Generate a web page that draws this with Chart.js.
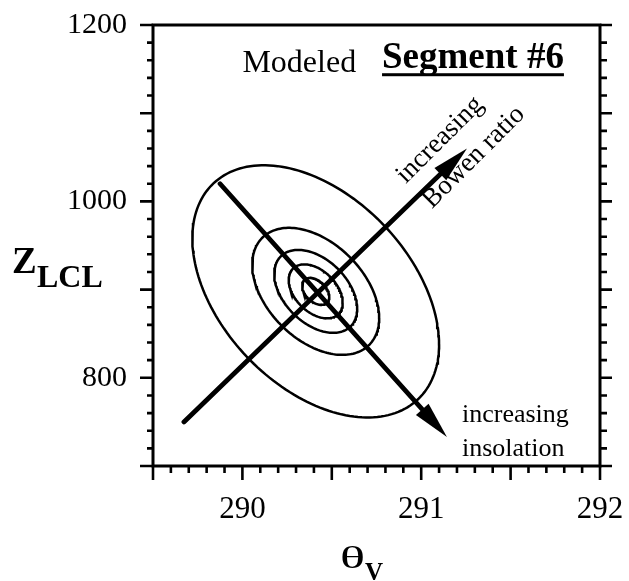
<!DOCTYPE html>
<html>
<head>
<meta charset="utf-8">
<script src="https://cdn.jsdelivr.net/npm/chart.js@4/dist/chart.umd.min.js"></script>
<style>
  html, body { margin: 0; padding: 0; background: #fff; }
  canvas { display: block; }
</style>
</head>
<body>
<canvas id="chart" width="629" height="581"></canvas>
<script>
// Axis ranges and labelled ticks
const thetaRange = [289.5, 292];
const zRange = [700, 1200];
const thetaTickLabels = [290, 291, 292];
const zTickLabels = [800, 1000, 1200];
const thetaMinorStep = 0.1, thetaMajorStep = 0.5;
const zMinorStep = 20, zMajorStep = 100;

// Modeled distribution: common centre, and the half-extent of each contour
// in θv (K) and zLCL (m), outermost first
const contourCenter = [290.41, 898];
const contourHalfWidthK = [0.69, 0.355, 0.232, 0.151, 0.076];
const contourHalfHeightM = [143, 72, 47, 30.6, 15.3];
const contourCorrelation = -0.42;

// Arrows, [start, tip] as [θv, zLCL]
const insolationArrow = [[289.875, 1020], [291.144, 733]];
const bowenArrow = [[289.673, 750], [291.256, 1060]];

const SERIF = '"Liberation Serif", "Times New Roman", serif';

function contourPoints(hx, hy) {
  const pts = [];
  const n = 180;
  const s = Math.sqrt(1 - contourCorrelation * contourCorrelation);
  for (let i = 0; i <= n; i++) {
    const t = (i / n) * Math.PI * 2;
    pts.push({
      x: contourCenter[0] + hx * Math.cos(t),
      y: contourCenter[1] + hy * (contourCorrelation * Math.cos(t) + s * Math.sin(t))
    });
  }
  return pts;
}

const datasets = contourHalfWidthK.map((hx, i) => ({
  data: contourPoints(hx, contourHalfHeightM[i]),
  borderColor: '#000',
  borderWidth: 2.5,
  pointRadius: 0,
  fill: false,
  tension: 0
}));

[insolationArrow, bowenArrow].forEach(a => {
  datasets.push({
    data: a.map(p => ({ x: p[0], y: p[1] })),
    borderColor: '#000',
    borderWidth: 4.8,
    borderCapStyle: 'round',
    pointRadius: 0,
    fill: false,
    arrow: true
  });
});

const HEAD_LEN = 37, HEAD_HALF = 8.5;

function arrowGeometry(chart, ds) {
  const xs = chart.scales.x, ys = chart.scales.y;
  const s = { x: xs.getPixelForValue(ds.data[0].x), y: ys.getPixelForValue(ds.data[0].y) };
  const t = { x: xs.getPixelForValue(ds.data[1].x), y: ys.getPixelForValue(ds.data[1].y) };
  const len = Math.hypot(t.x - s.x, t.y - s.y);
  const u = { x: (t.x - s.x) / len, y: (t.y - s.y) / len };
  const n = { x: -u.y, y: u.x };
  return { s, t, u, n };
}

// Arrow shafts stop at the head; heads are filled triangles
const arrowPlugin = {
  id: 'arrowHeads',
  beforeDatasetDraw(chart, args) {
    const ds = chart.data.datasets[args.index];
    if (!ds.arrow) return;
    const { s, t, u, n } = arrowGeometry(chart, ds);
    const ctx = chart.ctx;
    const back = { x: s.x - u.x * 12, y: s.y - u.y * 12 };
    const base = { x: t.x - u.x * (HEAD_LEN - 6), y: t.y - u.y * (HEAD_LEN - 6) };
    ctx.save();
    ctx.beginPath();
    ctx.moveTo(back.x + n.x * 12, back.y + n.y * 12);
    ctx.lineTo(base.x + n.x * 12, base.y + n.y * 12);
    ctx.lineTo(base.x - n.x * 12, base.y - n.y * 12);
    ctx.lineTo(back.x - n.x * 12, back.y - n.y * 12);
    ctx.closePath();
    ctx.clip();
  },
  afterDatasetDraw(chart, args) {
    const ds = chart.data.datasets[args.index];
    if (!ds.arrow) return;
    const ctx = chart.ctx;
    ctx.restore();
    const { t, u, n } = arrowGeometry(chart, ds);
    const b = { x: t.x - u.x * HEAD_LEN, y: t.y - u.y * HEAD_LEN };
    ctx.save();
    ctx.fillStyle = '#000';
    ctx.beginPath();
    ctx.moveTo(t.x, t.y);
    ctx.lineTo(b.x + n.x * HEAD_HALF, b.y + n.y * HEAD_HALF);
    ctx.lineTo(b.x - n.x * HEAD_HALF, b.y - n.y * HEAD_HALF);
    ctx.closePath();
    ctx.fill();
    ctx.restore();
  }
};

function isMultiple(v, step) {
  const r = v / step;
  return Math.abs(r - Math.round(r)) < 1e-6;
}

// Frame with outward tick marks on left, right and bottom
const framePlugin = {
  id: 'frameTicks',
  afterDraw(chart) {
    const { ctx, chartArea: a } = chart;
    const xs = chart.scales.x, ys = chart.scales.y;
    ctx.save();
    ctx.strokeStyle = '#000';
    ctx.lineCap = 'butt';
    ctx.lineWidth = 2.6;
    for (let k = 0; ; k++) {
      const v = zRange[0] + k * zMinorStep;
      if (v > zRange[1] + 1e-6) break;
      const y = ys.getPixelForValue(v);
      const major = isMultiple(v, zMajorStep);
      ctx.beginPath();
      ctx.moveTo(a.left, y); ctx.lineTo(a.left - (major ? 13 : 6), y);
      ctx.moveTo(a.right, y); ctx.lineTo(a.right + (major ? 12 : 7), y);
      ctx.stroke();
    }
    for (let k = 0; ; k++) {
      const v = thetaRange[0] + k * thetaMinorStep;
      if (v > thetaRange[1] + 1e-6) break;
      const x = xs.getPixelForValue(v);
      const major = isMultiple(v, thetaMajorStep);
      ctx.beginPath();
      ctx.moveTo(x, a.bottom); ctx.lineTo(x, a.bottom + (major ? 14 : 7));
      ctx.stroke();
    }
    ctx.lineWidth = 3;
    ctx.strokeRect(a.left, a.top, a.right - a.left, a.bottom - a.top);
    ctx.restore();
  }
};

// Titles and annotation text
const textPlugin = {
  id: 'annotText',
  afterDraw(chart) {
    const ctx = chart.ctx;
    const xs = chart.scales.x, ys = chart.scales.y;
    const px = v => xs.getPixelForValue(v);
    const py = v => ys.getPixelForValue(v);
    ctx.save();
    ctx.fillStyle = '#000';
    ctx.textBaseline = 'alphabetic';
    ctx.textAlign = 'left';

    ctx.font = '32px ' + SERIF;
    ctx.fillText('Modeled', px(290.0), py(1146.5));

    ctx.font = 'bold 37px ' + SERIF;
    const segX = px(290.781), segY = py(1151);
    ctx.fillText('Segment #6', segX, segY);
    const w = ctx.measureText('Segment #6').width;
    ctx.fillRect(segX, segY + 5, w, 3);

    ctx.font = '26px ' + SERIF;
    ctx.fillText('increasing', px(291.228), py(750));
    ctx.fillText('insolation', px(291.228), py(711));

    ctx.font = '27px ' + SERIF;
    ctx.textAlign = 'center';
    ctx.textBaseline = 'middle';
    [['increasing', 291.105, 1069.6], ['Bowen ratio', 291.295, 1050]].forEach(([s, x, y]) => {
      ctx.save();
      ctx.translate(px(x), py(y));
      ctx.rotate(-Math.PI / 4);
      ctx.fillText(s, 0, 0);
      ctx.restore();
    });

    // axis titles
    ctx.textAlign = 'left';
    ctx.textBaseline = 'alphabetic';
    ctx.font = 'bold 37px ' + SERIF;
    ctx.fillText('Z', 12, 273);
    ctx.font = 'bold 32px ' + SERIF;
    ctx.fillText('LCL', 37, 287);

    ctx.font = '31px ' + SERIF;
    const thW = ctx.measureText('θ').width;
    ctx.save();
    ctx.translate(340, 568);
    ctx.scale(25 / thW, 1);
    ctx.fillText('θ', 0, 0);
    ctx.restore();
    ctx.font = 'bold 25px ' + SERIF;
    ctx.fillText('V', 365, 580);
    ctx.restore();
  }
};

// Keep the plot frame exactly where the layout padding puts it
function noScalePadding(s) {
  s.paddingTop = 0; s.paddingBottom = 0; s.paddingLeft = 0; s.paddingRight = 0;
}

new Chart(document.getElementById('chart'), {
  type: 'line',
  data: { datasets },
  options: {
    responsive: false,
    animation: false,
    events: [],
    layout: { padding: { left: 0, top: 25, right: 29, bottom: 0 } },
    plugins: { legend: { display: false }, tooltip: { enabled: false } },
    scales: {
      x: {
        type: 'linear',
        min: thetaRange[0],
        max: thetaRange[1],
        grid: { display: false, drawTicks: false },
        border: { display: false },
        afterBuildTicks: s => { s.ticks = thetaTickLabels.map(v => ({ value: v })); },
        afterFit: s => { s.height = 115; noScalePadding(s); },
        ticks: {
          autoSkip: false, maxRotation: 0, minRotation: 0,
          padding: 25, color: '#000',
          font: { family: SERIF, size: 31 },
          callback: v => String(v)
        }
      },
      y: {
        type: 'linear',
        min: zRange[0],
        max: zRange[1],
        grid: { display: false, drawTicks: false },
        border: { display: false },
        afterBuildTicks: s => { s.ticks = zTickLabels.map(v => ({ value: v })); },
        afterFit: s => { s.width = 153; noScalePadding(s); },
        ticks: {
          autoSkip: false, padding: 26, color: '#000',
          font: { family: SERIF, size: 30 },
          callback: v => String(v)
        }
      }
    }
  },
  plugins: [arrowPlugin, framePlugin, textPlugin]
});
</script>
</body>
</html>
